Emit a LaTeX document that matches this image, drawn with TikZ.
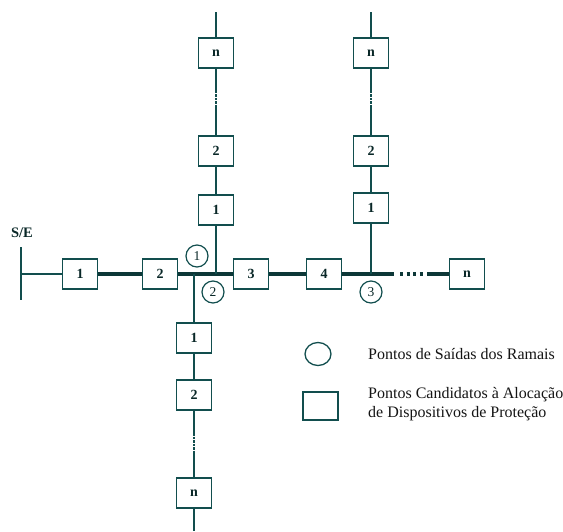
\documentclass[tikz,border=0pt]{standalone}
\usepackage{fontspec}
\setmainfont{Liberation Serif}
\usetikzlibrary{shapes.geometric}
\definecolor{lc}{RGB}{18,78,78}
\definecolor{tc}{RGB}{20,20,20}
\tikzset{
  box/.style={draw=lc, line width=1.4pt, fill=white, minimum width=35pt, minimum height=30pt, inner sep=0pt, font=\fontsize{14}{14}\selectfont\bfseries, text=lc!50!black},
  circ/.style={draw=lc, line width=1.2pt, circle, minimum size=22pt, inner sep=0pt, font=\fontsize{13.5}{13.5}\selectfont, text=lc!50!black},
  thin/.style={draw=lc, line width=1.6pt},
  mid/.style={draw=lc, line width=2.6pt},
  thickline/.style={draw=lc!70!black, line width=4pt},
  gapline/.style={draw=lc, dash pattern=on 2.5pt off 1pt},
  legtext/.style={font=\fontsize{16}{19}\selectfont, text=tc, anchor=base west, align=left, inner sep=0pt}
}
\begin{document}
\begin{tikzpicture}[x=1pt,y=-1pt]
\useasboundingbox (0,0) rectangle (563,531);
% S/E bar
\coordinate (set) at (21,247);
\coordinate (seb) at (21,300);
\coordinate (sem) at (21,274);
\draw[draw=lc, line width=2.2pt] (set) -- (seb);
\node[font=\fontsize{14.5}{14.5}\selectfont\bfseries, text=lc!50!black, inner sep=0pt] (sel) at (22,233) {S/E};
% main boxes
\node[box] (b1) at (80,274) {1};
\node[box] (b2) at (160,274) {2};
\node[box] (b3) at (251,274) {3};
\node[box] (b4) at (324,274) {4};
\node[box] (bn) at (467,274) {n};
\coordinate (jd) at (194,274);
\coordinate (ju) at (216,274);
\coordinate (j3) at (371,274);
\coordinate (da) at (394,274);
\coordinate (db) at (400,274);
\coordinate (dc) at (424,274);
\coordinate (dd) at (427,274);
% up branch 1
\node[box] (u1) at (216,210) {1};
\node[box] (u2) at (216,151) {2};
\node[box] (un) at (216,53) {n};
\coordinate (ut) at (216,12);
\coordinate (ug1) at (216,107);
\coordinate (ug2) at (216,93);
% up branch 2
\node[box] (v1) at (371,208) {1};
\node[box] (v2) at (371,151) {2};
\node[box] (vn) at (371,53) {n};
\coordinate (vt) at (371,12);
\coordinate (vg1) at (371,107);
\coordinate (vg2) at (371,93);
% down branch
\node[box] (d1) at (194,338) {1};
\node[box] (d2) at (194,395) {2};
\node[box] (dn) at (194,493) {n};
\coordinate (dbt) at (194,531);
\coordinate (dg1) at (194,433);
\coordinate (dg2) at (194,453);
% lines
\draw[thin, line width=2pt] (sem) -- (b1.west);
\draw[thickline] (b1.east) -- (b2.west);
\draw[thickline] (b2.east) -- (b3.west);
\draw[thickline] (b3.east) -- (b4.west);
\draw[thickline] (b4.east) -- (da);
\draw[draw=lc!70!black, line width=4pt, dash pattern=on 3pt off 3.5pt] (db) -- (dc);
\draw[thickline] (dd) -- (bn.west);
% up 1
\draw[thin] (ju) -- (u1.south);
\draw[thin] (u1.north) -- (u2.south);
\draw[thin] (u2.north) -- (ug1);
\draw[thin, gapline] (ug1) -- (ug2);
\draw[thin] (ug2) -- (un.south);
\draw[thin] (un.north) -- (ut);
% up 2
\draw[thin] (j3) -- (v1.south);
\draw[thin] (v1.north) -- (v2.south);
\draw[thin] (v2.north) -- (vg1);
\draw[thin, gapline] (vg1) -- (vg2);
\draw[thin] (vg2) -- (vn.south);
\draw[thin] (vn.north) -- (vt);
% down
\draw[mid] (jd) -- (d1.north);
\draw[mid] (d1.south) -- (d2.north);
\draw[mid] (d2.south) -- (dg1);
\draw[mid, gapline] (dg1) -- (dg2);
\draw[mid] (dg2) -- (dn.north);
\draw[mid] (dn.south) -- (dbt);
% branch circles
\node[circ] (c1) at (197,256) {1};
\node[circ] (c2) at (213,292) {2};
\node[circ] (c3) at (371,292) {3};
% legend
\node[draw=lc, line width=1.3pt, ellipse, minimum width=26pt, minimum height=23pt, inner sep=0pt] (lcirc) at (318,354) {};
\node[draw=lc, line width=1.4pt, minimum width=35pt, minimum height=28pt, inner sep=0pt] (lsq) at (320.5,406) {};
\node[legtext] (lt1) at (368,359) {Pontos de Saídas dos Ramais};
\node[legtext] (lt2) at (368,417) {Pontos Candidatos à Alocação\\de Dispositivos de Proteção};
\end{tikzpicture}
\end{document}
